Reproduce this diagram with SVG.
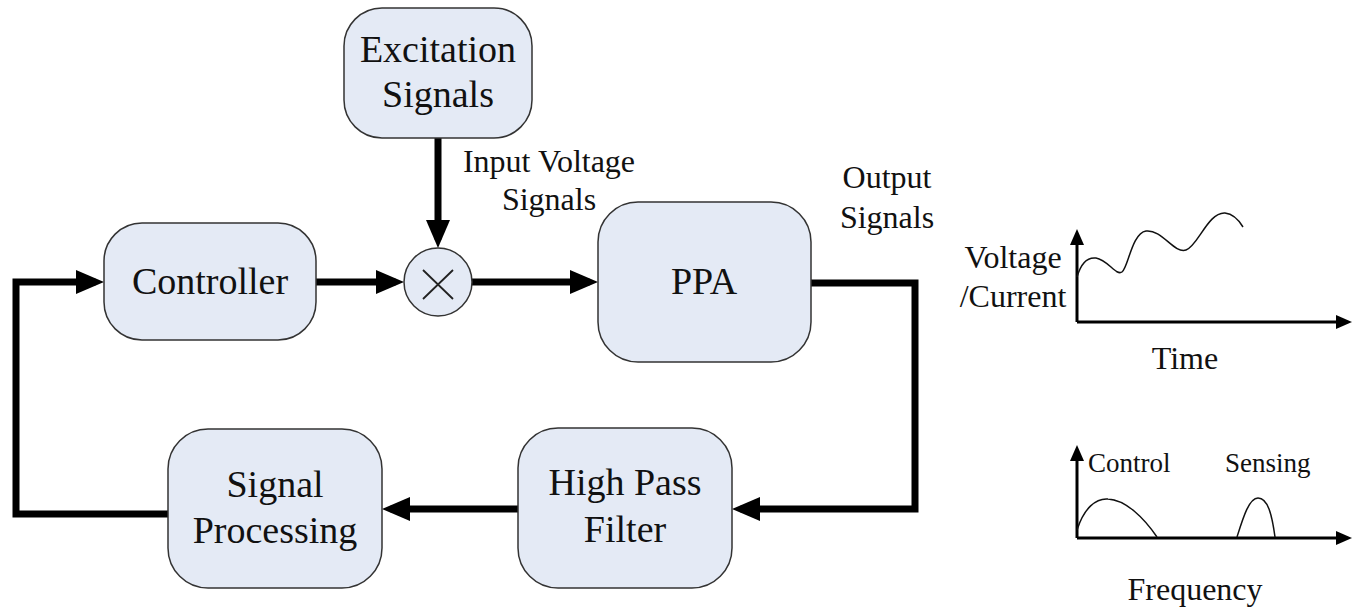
<svg xmlns="http://www.w3.org/2000/svg" width="1363" height="611" viewBox="0 0 1363 611">
<style>
.box{fill:#E4EAF5;stroke:#333;stroke-width:1.5}
.t{font-family:"Liberation Serif","Times New Roman",serif;fill:#111;text-anchor:middle}
.big{font-size:38px}
.mid{font-size:32px}
.sm{font-size:27px}
.conn{fill:none;stroke:#000;stroke-width:7;stroke-linejoin:miter;stroke-linecap:round}
.axis{fill:none;stroke:#000;stroke-width:3}
.curve{fill:none;stroke:#111;stroke-width:1.5}
</style>
<defs>
<marker id="ah" markerUnits="userSpaceOnUse" markerWidth="30" markerHeight="26" refX="18" refY="12" orient="auto">
<path d="M0,0 L28,12 L0,24 z" fill="#000"/>
</marker>
<marker id="sah" markerUnits="userSpaceOnUse" markerWidth="18" markerHeight="16" refX="9" refY="7" orient="auto">
<path d="M0,0 L16,7 L0,14 z" fill="#000"/>
</marker>
</defs>
<rect width="1363" height="611" fill="#fff"/>

<g id="connectors">
<path class="conn" d="M438,138 L438,238" marker-end="url(#ah)"/>
<path class="conn" d="M316,282 L394,282" marker-end="url(#ah)"/>
<path class="conn" d="M472,282 L588,282" marker-end="url(#ah)"/>
<path class="conn" d="M811,283 L915,283 L915,509 L742,509" marker-end="url(#ah)"/>
<path class="conn" d="M518,509 L392,509" marker-end="url(#ah)"/>
<path class="conn" d="M168,514 L16,514 L16,282 L94,282" marker-end="url(#ah)"/>
</g>

<g id="excitation">
<rect class="box" x="344" y="8" width="188" height="130" rx="38"/>
<text class="t big" x="438" y="62">Excitation</text>
<text class="t big" x="438" y="107">Signals</text>
</g>

<g id="controller">
<rect class="box" x="104" y="223" width="212" height="117" rx="38"/>
<text class="t big" x="210" y="294">Controller</text>
</g>

<g id="multiplier">
<circle class="box" cx="438" cy="282" r="34"/>
<path d="M423,270 L453,299 M453,270 L423,299" stroke="#222" stroke-width="1.8" fill="none"/>
</g>

<g id="ppa">
<rect class="box" x="598" y="202" width="213" height="160" rx="40"/>
<text class="t big" x="704" y="294">PPA</text>
</g>

<g id="hpf">
<rect class="box" x="518" y="428" width="214" height="160" rx="40"/>
<text class="t big" x="625" y="495">High Pass</text>
<text class="t big" x="625" y="542">Filter</text>
</g>

<g id="sigproc">
<rect class="box" x="168" y="429" width="214" height="159" rx="40"/>
<text class="t big" x="275" y="497">Signal</text>
<text class="t big" x="275" y="543">Processing</text>
</g>

<g id="labels">
<text class="t mid" x="549" y="172">Input Voltage</text>
<text class="t mid" x="549" y="210">Signals</text>
<text class="t mid" x="887" y="188">Output</text>
<text class="t mid" x="887" y="228">Signals</text>
</g>

<g id="time-plot">
<path class="axis" d="M1077,322 L1077,236" marker-end="url(#sah)"/>
<path class="axis" d="M1077,322 L1345,322" marker-end="url(#sah)"/>
<path class="curve" d="M1077,277 C1081,263 1088,257 1096,258 C1108,260 1116,276 1122,272 C1128,268 1132,233 1146,231 C1162,229 1174,254 1186,250 C1198,246 1208,212 1225,213 C1234,214 1240,222 1243,227"/>
<text class="t mid" x="1013" y="268">Voltage</text>
<text class="t mid" x="1013" y="307">/Current</text>
<text class="t mid" x="1185" y="369">Time</text>
</g>

<g id="freq-plot">
<path class="axis" d="M1077,538 L1077,452" marker-end="url(#sah)"/>
<path class="axis" d="M1077,538 L1345,538" marker-end="url(#sah)"/>
<path class="curve" d="M1077,530 C1084,508 1096,498 1108,499 C1126,500 1144,518 1157,537"/>
<path class="curve" d="M1237,537 C1243,518 1249,498 1258,498 C1268,498 1272,515 1275,537"/>
<text class="t sm" x="1088" y="472" text-anchor="start" style="text-anchor:start">Control</text>
<text class="t sm" x="1225" y="472" style="text-anchor:start">Sensing</text>
<text class="t mid" x="1195" y="600">Frequency</text>
</g>
</svg>
